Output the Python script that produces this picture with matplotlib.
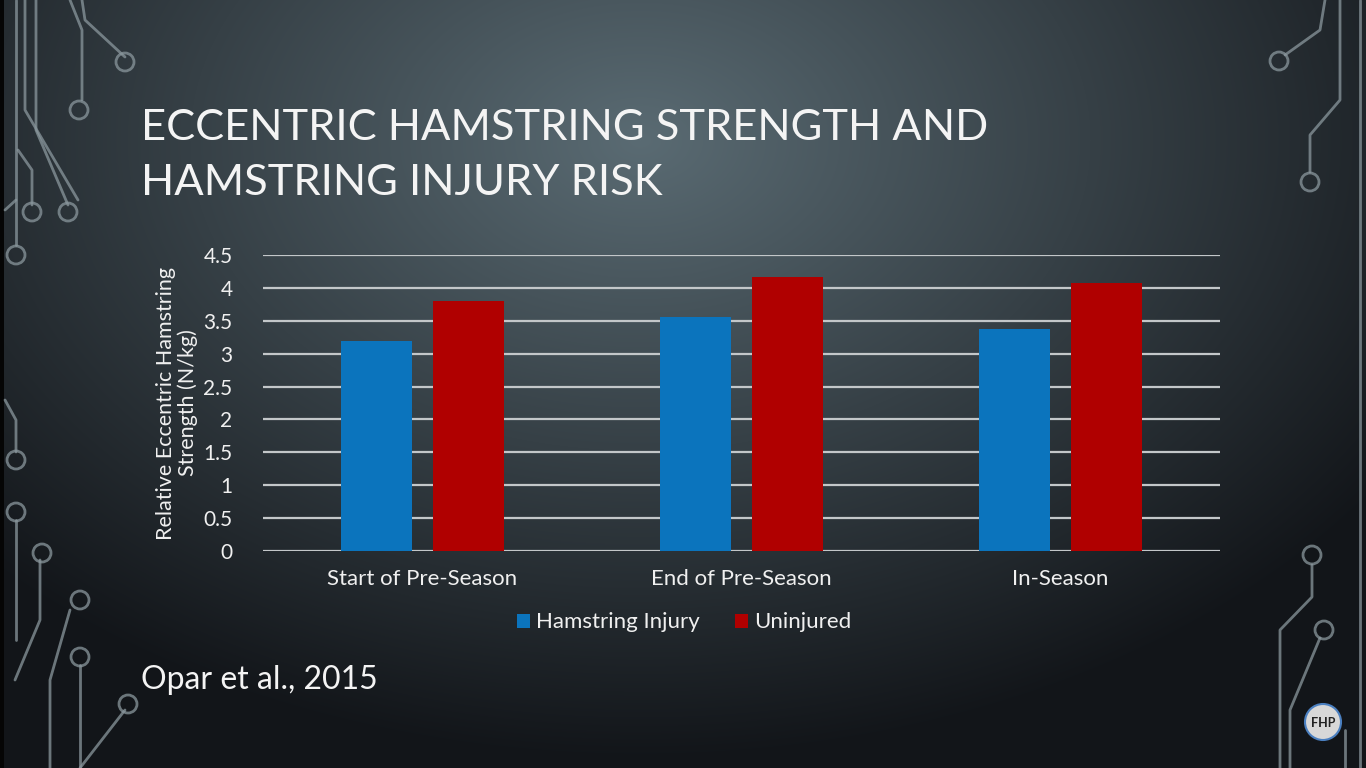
import numpy as np
import matplotlib.pyplot as plt
from matplotlib.patches import Circle

categories = ['Start of Pre-Season', 'End of Pre-Season', 'In-Season']
injured = [3.20, 3.56, 3.37]
uninjured = [3.80, 4.16, 4.08]
series_names = ['Hamstring Injury', 'Uninjured']
yticks = [0, 0.5, 1, 1.5, 2, 2.5, 3, 3.5, 4, 4.5]

W, H = 1366, 768
fig = plt.figure(figsize=(W / 100, H / 100), dpi=100)
plt.rcParams['font.family'] = ['Lato', 'DejaVu Sans']

# background gradient
bg = fig.add_axes([0, 0, 1, 1])
yy, xx = np.mgrid[0:H, 0:W]
d = np.sqrt(((xx - 640) / 900.0) ** 2 + ((yy - 140) / 620.0) ** 2)
d = np.clip(d, 0, 1)
c0 = np.array([0x5a, 0x6b, 0x73]) / 255.0
c1 = np.array([0x12, 0x15, 0x19]) / 255.0
img = c0[None, None, :] * (1 - d[..., None]) + c1[None, None, :] * d[..., None]
img[:, :4] = 0.02
bg.imshow(img, extent=[0, W, H, 0], aspect='auto')
bg.set_xlim(0, W)
bg.set_ylim(H, 0)
bg.axis('off')

# circuit decoration
lc = '#8a979d'
paths = [
    ([(36, 0), (36, 130), (68, 205)], (68, 212)),
    ([(25, 0), (25, 110), (78, 200)], None),
    ([(70, 0), (82, 30), (82, 100)], (79, 110)),
    ([(82, 0), (85, 20), (125, 57)], (125, 62)),
    ([(18, 150), (32, 170), (32, 205)], (32, 212)),
    ([(16, 0), (16, 245)], (16, 255)),
    ([(5, 210), (16, 200)], None),
    ([(5, 400), (16, 420), (16, 452)], (16, 460)),
    ([(16, 520), (16, 640)], (16, 512)),
    ([(40, 560), (40, 620), (15, 680)], (42, 553)),
    ([(70, 610), (50, 680), (50, 768)], (80, 600)),
    ([(80, 665), (80, 768)], (80, 657)),
    ([(125, 710), (80, 768)], (128, 704)),
    ([(1340, 0), (1340, 100), (1310, 135), (1310, 172)], (1310, 182)),
    ([(1325, 0), (1320, 30), (1285, 55)], (1279, 61)),
    ([(1360, 0), (1360, 768)], None),
    ([(1312, 565), (1312, 597), (1280, 630), (1280, 768)], (1312, 555)),
    ([(1320, 638), (1290, 710), (1290, 768)], (1324, 630)),
    ([(1345, 730), (1345, 768)], None),
]
for pts, circ in paths:
    px = [p[0] for p in pts]
    py = [p[1] for p in pts]
    bg.plot(px, py, color=lc, lw=2, alpha=0.75, solid_capstyle='round')
    if circ is not None:
        bg.add_patch(Circle(circ, 9, fill=False, ec=lc, lw=2, alpha=0.75))

# logo
bg.add_patch(Circle((1323, 722), 18, fc='#d8d8d8', ec='#4a7fc0', lw=1.5))
bg.text(1323, 723, 'FHP', color='#222222', fontsize=9, fontweight='bold',
        ha='center', va='center')

# title
fig.text(141 / W, 1 - 140 / H, 'ECCENTRIC HAMSTRING STRENGTH AND',
         color='#f4f4f4', fontsize=31.3, ha='left', va='baseline')
fig.text(141 / W, 1 - 195 / H, 'HAMSTRING INJURY RISK',
         color='#f4f4f4', fontsize=31.3, ha='left', va='baseline')
fig.text(141 / W, 1 - 689 / H, 'Opar et al., 2015',
         color='#f4f4f4', fontsize=23, ha='left', va='baseline')

# chart
ax = fig.add_axes([263 / W, 1 - 551 / H, (1220 - 263) / W, (551 - 255) / H])
ax.patch.set_alpha(0)
x = np.arange(len(categories))
bw = 0.223
off = 0.143
b1 = ax.bar(x - off, injured, bw, color='#0b74bd', zorder=3, label=series_names[0])
b2 = ax.bar(x + off, uninjured, bw, color='#b00000', zorder=3, label=series_names[1])
ax.set_xlim(-0.5, len(categories) - 0.5)
ax.set_ylim(0, 4.5)
ax.set_yticks(yticks)
ax.set_yticklabels(['%g' % t for t in yticks])
ax.yaxis.grid(True, color='#c3c7c9', lw=1.6, zorder=0)
ax.set_xticks(x)
ax.set_xticklabels(categories)
for s in ax.spines.values():
    s.set_visible(False)
ax.tick_params(axis='both', length=0, colors='#f0f0f0')
ax.tick_params(axis='y', pad=22, labelsize=15)
ax.tick_params(axis='x', pad=13, labelsize=16)
ax.set_ylabel('Relative Eccentric Hamstring\nStrength (N/kg)', color='#f0f0f0',
              fontsize=15.5, labelpad=4, linespacing=1.05)

leg = ax.legend(handles=[b1, b2], loc='upper center', bbox_to_anchor=(0.44, -0.14),
                ncol=2, frameon=False, fontsize=16, handlelength=0.6,
                handleheight=0.6, handletextpad=0.25, columnspacing=1.6)
for t in leg.get_texts():
    t.set_color('#f0f0f0')

fig.savefig('out.png', dpi=100)
